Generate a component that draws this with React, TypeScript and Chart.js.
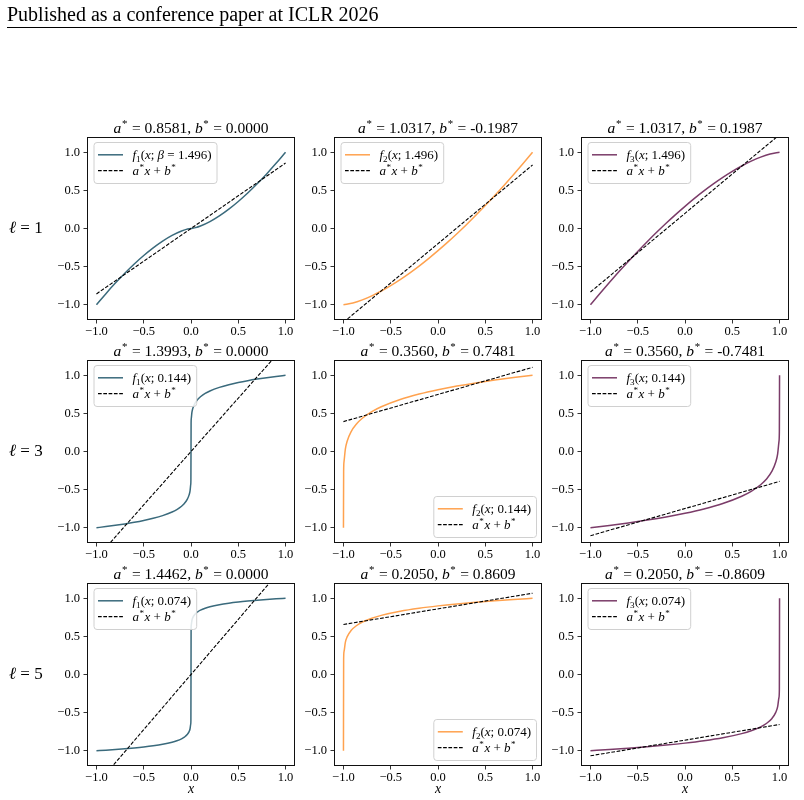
import React, { useEffect, useRef } from 'react';
import { Chart, registerables } from 'chart.js';

Chart.register(...registerables);

// ---------- data ----------
const X_TICKS = [-1, -0.5, 0, 0.5, 1];
const Y_TICKS = [-1, -0.5, 0, 0.5, 1];
const LAYER_LABELS = ['1', '3', '5'];
const BETA_LABELS = ['1.496', '0.144', '0.074'];

// fitted affine maps a*x + b* for each layer (rows) and function f1..f3 (columns)
const A_STAR = [
  [0.8581, 1.0317, 1.0317],
  [1.3993, 0.356, 0.356],
  [1.4462, 0.205, 0.205],
];
const B_STAR = [
  [0.0, -0.1987, 0.1987],
  [0.0, 0.7481, -0.7481],
  [0.0, 0.8609, -0.8609],
];

// layer 1, beta = 1.496
const L1_F1_X = [-1, -0.9, -0.8, -0.7, -0.6, -0.5, -0.4, -0.3, -0.2, -0.1, -0.05, 0, 0.05, 0.1, 0.2, 0.3, 0.4, 0.5, 0.6, 0.7, 0.8, 0.9, 1];
const L1_F1_Y = [-1, -0.8542, -0.7162, -0.5865, -0.4657, -0.3546, -0.2539, -0.1651, -0.09, -0.0319, -0.0113, 0, 0.0113, 0.0319, 0.09, 0.1651, 0.2539, 0.3546, 0.4657, 0.5865, 0.7162, 0.8542, 1];
const L1_F2_X = [-1, -0.9, -0.8, -0.7, -0.6, -0.5, -0.4, -0.3, -0.2, -0.1, 0, 0.1, 0.2, 0.3, 0.4, 0.5, 0.6, 0.7, 0.8, 0.9, 1];
const L1_F2_Y = [-1, -0.9774, -0.9362, -0.883, -0.82, -0.7486, -0.6698, -0.584, -0.4922, -0.3944, -0.2908, -0.1824, -0.0686, 0.0498, 0.173, 0.3004, 0.4324, 0.5684, 0.7084, 0.8524, 1];
const L1_F3_X = [-1, -0.9, -0.8, -0.7, -0.6, -0.5, -0.4, -0.3, -0.2, -0.1, 0, 0.1, 0.2, 0.3, 0.4, 0.5, 0.6, 0.7, 0.8, 0.9, 1];
const L1_F3_Y = [-1, -0.8524, -0.7084, -0.5684, -0.4324, -0.3004, -0.173, -0.0498, 0.0686, 0.1824, 0.2908, 0.3944, 0.4922, 0.584, 0.6698, 0.7486, 0.82, 0.883, 0.9362, 0.9774, 1];

// layer 3, beta = 0.144
const L3_F1_X = [-1, -0.9, -0.8, -0.7, -0.6, -0.5, -0.4, -0.3, -0.2, -0.15, -0.1, -0.07, -0.04, -0.02, -0.01, -0.003, -0.001, 0.001, 0.003, 0.01, 0.02, 0.04, 0.07, 0.1, 0.15, 0.2, 0.3, 0.4, 0.5, 0.6, 0.7, 0.8, 0.9, 1];
const L3_F1_Y = [-1, -0.9849, -0.9684, -0.9499, -0.9291, -0.905, -0.8764, -0.8408, -0.7931, -0.7609, -0.7178, -0.6819, -0.629, -0.5693, -0.5153, -0.4332, -0.3698, 0.3698, 0.4332, 0.5153, 0.5693, 0.629, 0.6819, 0.7178, 0.7609, 0.7931, 0.8408, 0.8764, 0.905, 0.9291, 0.9499, 0.9684, 0.9849, 1];
const L3_F2_X = [-1, -0.998, -0.994, -0.98, -0.96, -0.92, -0.86, -0.8, -0.7, -0.6, -0.4, -0.2, 0, 0.2, 0.4, 0.6, 0.8, 1];
const L3_F2_Y = [-1, -0.2604, -0.1336, 0.0306, 0.1386, 0.258, 0.3638, 0.4356, 0.5218, 0.5862, 0.6816, 0.7528, 0.81, 0.8582, 0.8998, 0.9368, 0.9698, 1];
const L3_F3_X = [-1, -0.8, -0.6, -0.4, -0.2, 0, 0.2, 0.4, 0.6, 0.7, 0.8, 0.86, 0.92, 0.96, 0.98, 0.994, 0.998, 1];
const L3_F3_Y = [-1, -0.9698, -0.9368, -0.8998, -0.8582, -0.81, -0.7528, -0.6816, -0.5862, -0.5218, -0.4356, -0.3638, -0.258, -0.1386, -0.0306, 0.1336, 0.2604, 1];

// layer 5, beta = 0.074
const L5_F1_X = [-1, -0.9, -0.8, -0.7, -0.6, -0.5, -0.4, -0.3, -0.2, -0.15, -0.1, -0.07, -0.04, -0.02, -0.01, -0.003, -0.001, 0.001, 0.003, 0.01, 0.02, 0.04, 0.07, 0.1, 0.15, 0.2, 0.3, 0.4, 0.5, 0.6, 0.7, 0.8, 0.9, 1];
const L5_F1_Y = [-1, -0.9922, -0.9836, -0.9739, -0.9629, -0.95, -0.9344, -0.9148, -0.8877, -0.869, -0.8433, -0.8214, -0.788, -0.7486, -0.7112, -0.6506, -0.5998, 0.5998, 0.6506, 0.7112, 0.7486, 0.788, 0.8214, 0.8433, 0.869, 0.8877, 0.9148, 0.9344, 0.95, 0.9629, 0.9739, 0.9836, 0.9922, 1];
const L5_F2_X = [-1, -0.998, -0.994, -0.98, -0.96, -0.92, -0.86, -0.8, -0.7, -0.6, -0.4, -0.2, 0, 0.2, 0.4, 0.6, 0.8, 1];
const L5_F2_Y = [-1, 0.1996, 0.3012, 0.4224, 0.4972, 0.576, 0.6428, 0.6866, 0.738, 0.7754, 0.8296, 0.8688, 0.9, 0.9258, 0.9478, 0.9672, 0.9844, 1];
const L5_F3_X = [-1, -0.8, -0.6, -0.4, -0.2, 0, 0.2, 0.4, 0.6, 0.7, 0.8, 0.86, 0.92, 0.96, 0.98, 0.994, 0.998, 1];
const L5_F3_Y = [-1, -0.9844, -0.9672, -0.9478, -0.9258, -0.9, -0.8688, -0.8296, -0.7754, -0.738, -0.6866, -0.6428, -0.576, -0.4972, -0.4224, -0.3012, -0.1996, 1];

const CURVE_X = [
  [L1_F1_X, L1_F2_X, L1_F3_X],
  [L3_F1_X, L3_F2_X, L3_F3_X],
  [L5_F1_X, L5_F2_X, L5_F3_X],
];
const CURVE_Y = [
  [L1_F1_Y, L1_F2_Y, L1_F3_Y],
  [L3_F1_Y, L3_F2_Y, L3_F3_Y],
  [L5_F1_Y, L5_F2_Y, L5_F3_Y],
];

// ---------- look ----------
const COLORS = ['#3a6a7c', '#ffa24f', '#7b3c69'];
const LEGEND_LOC = [
  ['ul', 'ul', 'ul'],
  ['ul', 'lr', 'ul'],
  ['ul', 'lr', 'ul'],
];
const FONT = '"Liberation Serif", "DejaVu Serif", serif';

const COL_LEFT = [87, 334, 581];
const ROW_TOP = [137, 360, 583];
const PLOT_W = 208;
const PLOT_H = 183;
const AXIS_W = 50;
const PAD_TOP = 25;
const PAD_RIGHT = 10;
const AXIS_H = 36;

const TICK_SIZE = 12.5;
const TITLE_SIZE = 15.5;
const LEGEND_SIZE = 13;

type Seg = { t: string; it?: boolean; sub?: boolean; sup?: boolean };

const segFont = (s: Seg, size: number) =>
  `${s.it ? 'italic ' : ''}${s.sub || s.sup ? size * 0.7 : size}px ${FONT}`;

function richWidth(ctx: CanvasRenderingContext2D, segs: Seg[], size: number) {
  let w = 0;
  for (const s of segs) {
    ctx.font = segFont(s, size);
    w += ctx.measureText(s.t).width + (s.sup ? size * 0.08 : 0);
  }
  return w;
}

function drawRich(
  ctx: CanvasRenderingContext2D,
  segs: Seg[],
  x: number,
  baseline: number,
  size: number,
  align: 'left' | 'center'
) {
  const w = richWidth(ctx, segs, size);
  let cx = align === 'center' ? x - w / 2 : x;
  ctx.textAlign = 'left';
  ctx.textBaseline = 'alphabetic';
  ctx.fillStyle = '#000';
  for (const s of segs) {
    ctx.font = segFont(s, size);
    const dy = s.sub ? size * 0.22 : s.sup ? -size * 0.36 : 0;
    const kern = s.sup ? size * 0.04 : 0;
    ctx.fillText(s.t, cx + kern, baseline + dy);
    cx += ctx.measureText(s.t).width + (s.sup ? size * 0.08 : 0);
  }
}

const curveLabel = (idx: number, beta: string, named: boolean): Seg[] => [
  { t: 'f', it: true },
  { t: String(idx), sub: true },
  { t: '(' },
  { t: 'x', it: true },
  { t: '; ' },
  ...(named ? [{ t: 'β', it: true }, { t: ' = ' }] : []),
  { t: beta },
  { t: ')' },
];

const LINE_LABEL: Seg[] = [
  { t: 'a', it: true },
  { t: '*', sup: true },
  { t: 'x', it: true },
  { t: ' + ' },
  { t: 'b', it: true },
  { t: '*', sup: true },
];

const titleSegs = (a: number, b: number): Seg[] => [
  { t: 'a', it: true },
  { t: '*', sup: true },
  { t: ` = ${a.toFixed(4)}, ` },
  { t: 'b', it: true },
  { t: '*', sup: true },
  { t: ` = ${b.toFixed(4)}` },
];

const fmtTick = (v: number) => v.toFixed(1).replace('-', '\u2212');

function decorPlugin(row: number, col: number) {
  return {
    id: `decor-${row}-${col}`,
    afterDraw(chart: any) {
      const ctx: CanvasRenderingContext2D = chart.ctx;
      const { left, right, top, bottom } = chart.chartArea;
      ctx.save();

      // frame
      ctx.strokeStyle = '#111';
      ctx.lineWidth = 1;
      ctx.strokeRect(left + 0.5, top + 0.5, right - left - 1, bottom - top - 1);

      // title
      drawRich(ctx, titleSegs(A_STAR[row][col], B_STAR[row][col]), (left + right) / 2, top - 4, TITLE_SIZE, 'center');

      // legend
      const fs = LEGEND_SIZE;
      const s1 = curveLabel(col + 1, BETA_LABELS[row], row === 0 && col === 0);
      const tw = Math.max(richWidth(ctx, s1, fs), richWidth(ctx, LINE_LABEL, fs));
      const bw = 4.5 + 25 + 9.5 + tw + 5;
      const bh = 41;
      let bx: number;
      let by: number;
      if (LEGEND_LOC[row][col] === 'ul') {
        bx = left + 6.5;
        by = top + 5;
      } else {
        bx = right - 6 - bw;
        by = bottom - 6 - bh;
      }
      ctx.beginPath();
      ctx.roundRect(bx + 0.5, by + 0.5, bw, bh, 3);
      ctx.fillStyle = 'rgba(255,255,255,0.85)';
      ctx.fill();
      ctx.strokeStyle = '#d0d0d0';
      ctx.lineWidth = 1;
      ctx.stroke();

      const ys = [by + 12.8, by + 28.6];
      // curve sample
      ctx.beginPath();
      ctx.strokeStyle = COLORS[col];
      ctx.lineWidth = 1.5;
      ctx.moveTo(bx + 4.5, ys[0]);
      ctx.lineTo(bx + 29.5, ys[0]);
      ctx.stroke();
      // dashed sample
      ctx.beginPath();
      ctx.strokeStyle = '#000';
      ctx.lineWidth = 1.1;
      ctx.setLineDash([3.7, 1.6]);
      ctx.moveTo(bx + 4.5, ys[1]);
      ctx.lineTo(bx + 29.5, ys[1]);
      ctx.stroke();
      ctx.setLineDash([]);

      drawRich(ctx, s1, bx + 39, ys[0] + 4.2, fs, 'left');
      drawRich(ctx, LINE_LABEL, bx + 39, ys[1] + 4.2, fs, 'left');

      // x axis label on the bottom row
      if (row === 2) {
        ctx.font = `italic 14px ${FONT}`;
        ctx.fillStyle = '#000';
        ctx.textAlign = 'center';
        ctx.textBaseline = 'middle';
        ctx.fillText('x', (left + right) / 2, bottom + 23);
      }
      ctx.restore();
    },
  };
}

function Panel({ row, col }: { row: number; col: number }) {
  const ref = useRef<HTMLCanvasElement>(null);
  const width = AXIS_W + PLOT_W + PAD_RIGHT;
  const height = PAD_TOP + PLOT_H + AXIS_H;

  useEffect(() => {
    const a = A_STAR[row][col];
    const b = B_STAR[row][col];
    const xs = CURVE_X[row][col];
    const ys = CURVE_Y[row][col];
    const tickFont = { family: FONT, size: TICK_SIZE };
    const grid = {
      display: true,
      drawOnChartArea: false,
      drawTicks: true,
      tickLength: 3.5,
      color: '#000',
      lineWidth: 0.8,
    };
    const chart = new Chart(ref.current as HTMLCanvasElement, {
      type: 'line',
      data: {
        datasets: [
          {
            data: [
              { x: -1, y: a * -1 + b },
              { x: 1, y: a * 1 + b },
            ],
            borderColor: '#000',
            borderWidth: 1.1,
            borderDash: [3.7, 1.6],
            pointRadius: 0,
            fill: false,
          },
          {
            data: xs.map((x, i) => ({ x, y: ys[i] })),
            borderColor: COLORS[col],
            borderWidth: 1.5,
            pointRadius: 0,
            fill: false,
            cubicInterpolationMode: 'monotone',
          },
        ],
      },
      options: {
        responsive: false,
        animation: false,
        events: [],
        layout: { padding: { left: 0, top: PAD_TOP, right: PAD_RIGHT, bottom: 0 } },
        plugins: {
          legend: { display: false },
          tooltip: { enabled: false },
          title: { display: false },
        },
        scales: {
          x: {
            type: 'linear',
            min: -1.1,
            max: 1.1,
            afterBuildTicks: (s: any) => {
              s.ticks = X_TICKS.map((v) => ({ value: v }));
            },
            afterFit: (s: any) => {
              s.height = AXIS_H;
            },
            grid,
            border: { display: false },
            ticks: {
              font: tickFont,
              color: '#000',
              padding: 1,
              maxRotation: 0,
              autoSkip: false,
              callback: (v: any) => fmtTick(Number(v)),
            },
          },
          y: {
            type: 'linear',
            min: -1.2,
            max: 1.2,
            afterBuildTicks: (s: any) => {
              s.ticks = Y_TICKS.map((v) => ({ value: v }));
            },
            afterFit: (s: any) => {
              s.width = AXIS_W;
            },
            grid,
            border: { display: false },
            ticks: {
              font: tickFont,
              color: '#000',
              padding: 3.5,
              autoSkip: false,
              callback: (v: any) => fmtTick(Number(v)),
            },
          },
        },
      } as any,
      plugins: [decorPlugin(row, col)],
    });
    return () => chart.destroy();
  }, [row, col]);

  return (
    <canvas
      ref={ref}
      width={width}
      height={height}
      style={{
        position: 'absolute',
        left: COL_LEFT[col] - AXIS_W,
        top: ROW_TOP[row] - PAD_TOP,
        width,
        height,
      }}
    />
  );
}

export default function App() {
  const bgRef = useRef<HTMLCanvasElement>(null);

  useEffect(() => {
    const ctx = (bgRef.current as HTMLCanvasElement).getContext('2d') as CanvasRenderingContext2D;
    ctx.clearRect(0, 0, 804, 800);
    ctx.fillStyle = '#fff';
    ctx.fillRect(0, 0, 804, 800);

    // running header
    ctx.fillStyle = '#000';
    ctx.font = `20px ${FONT}`;
    ctx.textAlign = 'left';
    ctx.textBaseline = 'alphabetic';
    ctx.fillText('Published as a conference paper at ICLR 2026', 7, 21);
    ctx.strokeStyle = '#000';
    ctx.lineWidth = 1;
    ctx.beginPath();
    ctx.moveTo(7, 27.5);
    ctx.lineTo(797, 27.5);
    ctx.stroke();

    // row labels
    LAYER_LABELS.forEach((l, r) => {
      const cy = ROW_TOP[r] + PLOT_H / 2;
      ctx.textBaseline = 'middle';
      ctx.font = `italic 17px ${FONT}`;
      ctx.fillText('\u2113', 9, cy);
      const w = ctx.measureText('\u2113').width;
      ctx.font = `17px ${FONT}`;
      ctx.fillText(` = ${l}`, 9 + w, cy);
    });
  }, []);

  return (
    <div
      style={{
        position: 'absolute',
        left: 0,
        top: 0,
        width: 804,
        height: 800,
        background: '#fff',
        overflow: 'hidden',
      }}
    >
      <canvas ref={bgRef} width={804} height={800} style={{ position: 'absolute', left: 0, top: 0 }} />
      {[0, 1, 2].flatMap((r) => [0, 1, 2].map((c) => <Panel key={`${r}-${c}`} row={r} col={c} />))}
    </div>
  );
}
